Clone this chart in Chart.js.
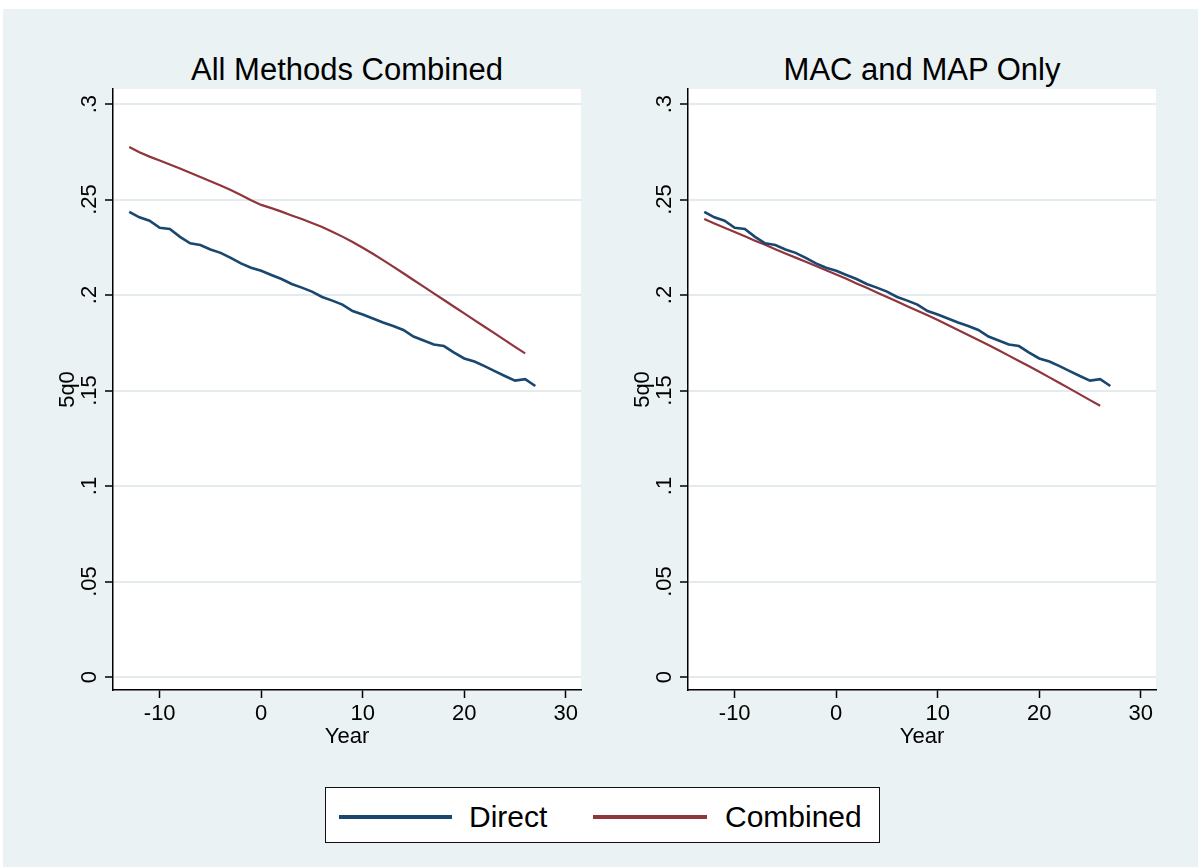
<!DOCTYPE html>
<html>
<head>
<meta charset="utf-8">
<script src="https://cdn.jsdelivr.net/npm/chart.js@4.4.1/dist/chart.umd.min.js"></script>
<style>
body { margin: 0; background: #fff; overflow: hidden; font-family: 'Liberation Sans', Arial, sans-serif; }
#graph { position: absolute; left: 3px; top: 9px; width: 1195px; height: 858px; background: #eaf2f3; }
canvas { position: absolute; }
.title { position: absolute; top: 54px; width: 500px; text-align: center; font-size: 31px; line-height: 31px; color: #000; }
#legend { position: absolute; left: 325px; top: 787px; width: 555px; height: 56px; background: #fff; border: 1px solid #111; box-sizing: border-box; }
.swatch { position: absolute; height: 4px; top: 27px; }
.label { position: absolute; top: 14px; font-size: 30px; line-height: 30px; color: #000; }
</style>
</head>
<body>
<div id="graph"></div>
<div class="title" id="title0" style="left:97px"></div>
<div class="title" id="title1" style="left:672px"></div>
<canvas id="leftChart" width="580" height="740" style="left:20px;top:20px"></canvas>
<canvas id="rightChart" width="580" height="740" style="left:595px;top:20px"></canvas>
<div id="legend">
  <div class="swatch" id="sw0" style="left:13px;width:113px"></div>
  <div class="label" id="lb0" style="left:143px"></div>
  <div class="swatch" id="sw1" style="left:267px;width:114px"></div>
  <div class="label" id="lb1" style="left:399px"></div>
</div>
<script>
// values (5q0 by year)
const directYears = [-13, -12, -11, -10, -9, -8, -7, -6, -5, -4, -3, -2, -1, 0, 1, 2, 3, 4, 5, 6, 7,
    8, 9, 10, 11, 12, 13, 14, 15, 16, 17, 18, 19, 20, 21, 22, 23, 24, 25, 26, 27];
const directValues = [0.2436, 0.2407, 0.2389, 0.2352, 0.2346, 0.2305, 0.2271, 0.2262, 0.2239, 0.2221,
    0.2195, 0.2166, 0.2143, 0.2127, 0.2105, 0.2084, 0.2058, 0.2039, 0.2018, 0.1990, 0.1971,
    0.1950, 0.1916, 0.1898, 0.1877, 0.1856, 0.1838, 0.1817, 0.1783, 0.1762, 0.1741, 0.1733,
    0.1699, 0.1668, 0.1652, 0.1628, 0.1602, 0.1576, 0.1552, 0.1560, 0.1524];
const combinedYears = [-13, -12, -11, -10, -9, -8, -7, -6, -5, -4, -3, -2, -1, 0, 1, 2, 3, 4, 5, 6,
    7, 8, 9, 10, 11, 12, 13, 14, 15, 16, 17, 18, 19, 20, 21, 22, 23, 24, 25, 26];
const combinedAllValues = [0.2775, 0.2748, 0.2725, 0.2705, 0.2684, 0.2663, 0.2641, 0.2618, 0.2596, 0.2574,
    0.2550, 0.2524, 0.2496, 0.2472, 0.2455, 0.2437, 0.2417, 0.2398, 0.2377, 0.2356,
    0.2332, 0.2306, 0.2278, 0.2248, 0.2216, 0.2183, 0.2149, 0.2114, 0.2079, 0.2044,
    0.2009, 0.1974, 0.1939, 0.1904, 0.1869, 0.1834, 0.1799, 0.1764, 0.1729, 0.1695];
const combinedMacMapValues = [0.2398, 0.2375, 0.2353, 0.2330, 0.2308, 0.2285, 0.2263, 0.2240, 0.2218, 0.2196,
    0.2174, 0.2152, 0.2130, 0.2108, 0.2085, 0.2061, 0.2038, 0.2014, 0.1990, 0.1966,
    0.1942, 0.1918, 0.1894, 0.1869, 0.1843, 0.1817, 0.1791, 0.1765, 0.1738, 0.1711,
    0.1683, 0.1655, 0.1627, 0.1598, 0.1569, 0.1540, 0.1510, 0.1480, 0.1450, 0.1420];

const xTickValues = [-10, 0, 10, 20, 30];
const xTickLabels = ['-10', '0', '10', '20', '30'];
const yTickValues = [0, 0.05, 0.1, 0.15, 0.2, 0.25, 0.3];
const yTickLabels = ['0', '.05', '.1', '.15', '.2', '.25', '.3'];

const seriesNames = ['Direct', 'Combined'];
const seriesColors = ['#1a476f', '#90353b'];
const panelTitles = ['All Methods Combined', 'MAC and MAP Only'];

Chart.defaults.font.family = "'Liberation Sans', Arial, sans-serif";
Chart.defaults.color = '#000';

const plotAreaFill = {   // white plot region behind the grid
    id: 'plotAreaFill',
    beforeDraw: function(chart) {
        const a = chart.chartArea;
        chart.ctx.save();
        chart.ctx.fillStyle = '#fff';
        chart.ctx.fillRect(a.left, a.top, a.right - a.left, a.bottom - a.top);
        chart.ctx.restore();
    }
};

function toPoints(xs, ys) {
    return xs.map(function(x, i) { return {x: x, y: ys[i]}; });
}

window.initializeChart = function(ctx, combinedValues) {     // one panel
    let panelChart = new Chart(ctx, {
        type: 'line',
        data: {
            datasets: [{
                label: seriesNames[0],
                data: toPoints(directYears, directValues),
                borderColor: seriesColors[0],
                borderWidth: 2.6,
                pointRadius: 0,
                tension: 0
            }, {
                label: seriesNames[1],
                data: toPoints(combinedYears, combinedValues),
                borderColor: seriesColors[1],
                borderWidth: 2.2,
                pointRadius: 0,
                tension: 0
            }]
        },
        options: {
            responsive: false,
            animation: false,
            layout: { padding: { left: 0, right: 19, top: 69, bottom: 0 } },
            plugins: { legend: { display: false }, tooltip: { enabled: false } },
            scales: {
                x: {
                    type: 'linear',
                    min: -14.6,
                    max: 31.5,
                    afterBuildTicks: function(scale) { scale.ticks = xTickValues.map(v => ({value: v})); },
                    afterFit: function(scale) { scale.height = 70; },
                    ticks: {
                        maxRotation: 0,
                        padding: 3,
                        font: { size: 22 },
                        callback: function(value, index) { return xTickLabels[index]; }
                    },
                    grid: { drawOnChartArea: false, tickColor: '#000', tickLength: 8, tickWidth: 1.5 },
                    border: { color: '#000', width: 1.5 },
                    title: { display: true, text: 'Year', font: { size: 22 }, padding: { top: 0, bottom: 10 } }
                },
                y: {
                    type: 'linear',
                    min: -0.0068,
                    max: 0.3079,
                    afterBuildTicks: function(scale) { scale.ticks = yTickValues.map(v => ({value: v})); },
                    afterFit: function(scale) { scale.width = 93; },
                    ticks: {
                        minRotation: 90,
                        maxRotation: 90,
                        crossAlign: 'center',
                        padding: 0,
                        font: { size: 22 },
                        callback: function(value, index) { return yTickLabels[index]; }
                    },
                    grid: { color: '#e3ebee', lineWidth: 2, tickColor: '#000', tickLength: 8, tickWidth: 1.5 },
                    border: { color: '#000', width: 1.5 },
                    title: { display: true, text: '5q0', font: { size: 22 }, padding: { top: 35, bottom: 0 } }
                }
            }
        },
        plugins: [plotAreaFill]
    });

    return panelChart;
}

document.getElementById('title0').textContent = panelTitles[0];
document.getElementById('title1').textContent = panelTitles[1];
document.getElementById('sw0').style.background = seriesColors[0];
document.getElementById('sw1').style.background = seriesColors[1];
document.getElementById('lb0').textContent = seriesNames[0];
document.getElementById('lb1').textContent = seriesNames[1];

let leftChart = initializeChart(document.getElementById('leftChart'), combinedAllValues);
let rightChart = initializeChart(document.getElementById('rightChart'), combinedMacMapValues);
</script>
</body>
</html>
